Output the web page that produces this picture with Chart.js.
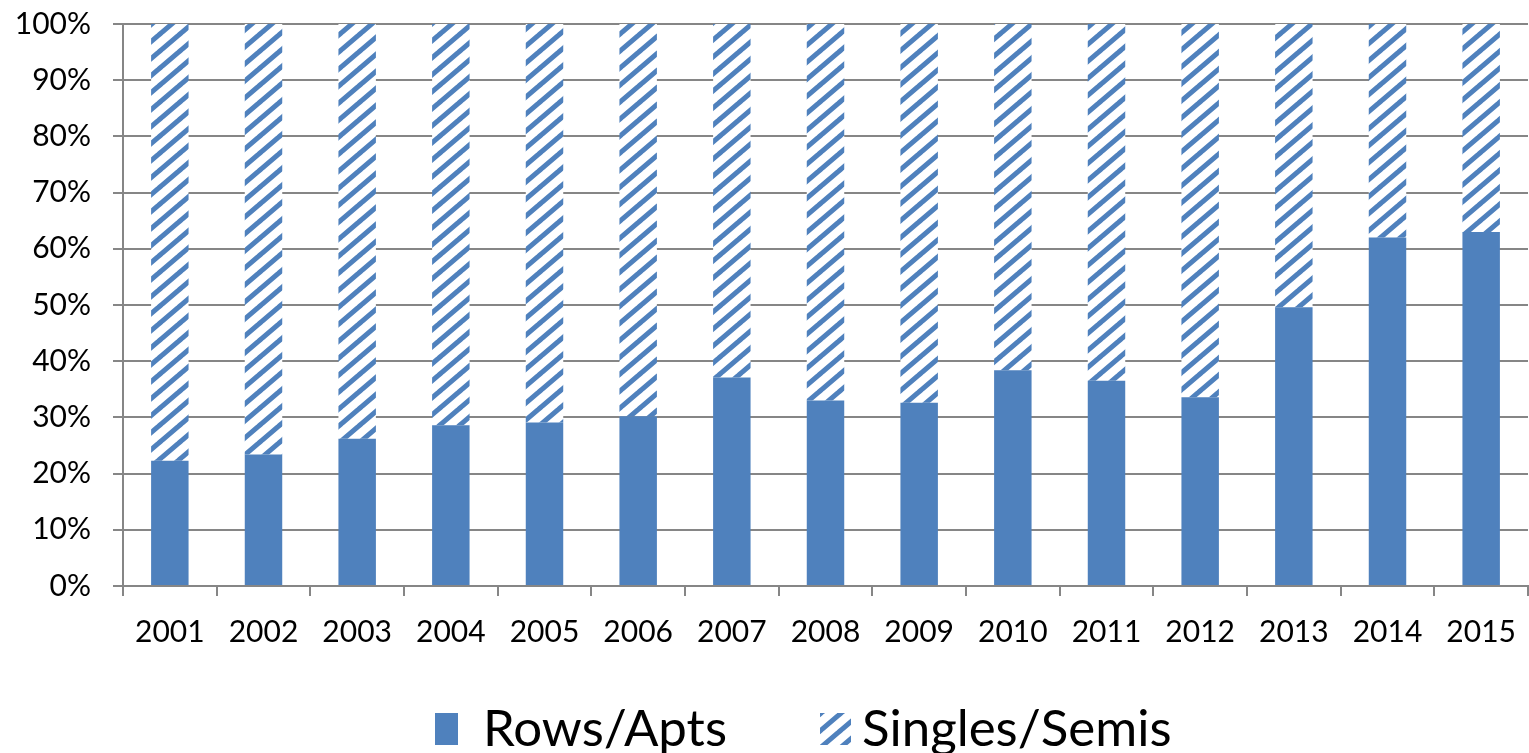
<!DOCTYPE html>
<html>
<head>
<meta charset="utf-8">
<script src="https://cdn.jsdelivr.net/npm/chart.js@4.4.1/dist/chart.umd.min.js"></script>
<style>
  html, body { margin: 0; padding: 0; background: #ffffff; }
  #wrap { width: 1529px; height: 753px; position: relative; }
</style>
</head>
<body>
<div id="wrap"><canvas id="chart" width="1529" height="753"></canvas></div>
<script>
// Share of housing starts by dwelling type, 2001-2015 (percent)
const years = ['2001', '2002', '2003', '2004', '2005', '2006', '2007', '2008',
               '2009', '2010', '2011', '2012', '2013', '2014', '2015'];
const rowsApts = [22.3, 23.4, 26.2, 28.6, 29.1, 30.2, 37.1, 33.0,
                  32.6, 38.4, 36.5, 33.6, 49.6, 62.0, 63.0];
const singlesSemis = rowsApts.map(v => +(100 - v).toFixed(1));
const seriesNames = ['Rows/Apts', 'Singles/Semis'];

const BLUE = 'rgb(79,129,189)';
const GRID = 'rgb(134,134,134)';
const FONT = 'Lato, "Open Sans", sans-serif';

// Upward diagonal hatch used for the Singles/Semis bars
function makeHatch() {
  const w = 20, h = 17;
  const c = document.createElement('canvas');
  c.width = w; c.height = h;
  const g = c.getContext('2d');
  g.fillStyle = '#ffffff';
  g.fillRect(0, 0, w, h);
  g.strokeStyle = BLUE;
  g.lineWidth = 5;
  g.lineCap = 'square';
  g.beginPath();
  for (let k = -1; k <= 1; k++) {
    g.moveTo(k * w, h);
    g.lineTo(k * w + w, 0);
  }
  g.stroke();
  return g.createPattern(c, 'repeat');
}

const ctx = document.getElementById('chart').getContext('2d');
const hatch = makeHatch();

// Legend drawn under the axis: solid swatch and hatched swatch with labels
const legendItems = [
  { swatchX: 435, swatchW: 23, textX: 483 },
  { swatchX: 820, swatchW: 31, textX: 862 }
];
const bottomLegend = {
  id: 'bottomLegend',
  afterDraw(chart) {
    const g = chart.ctx;
    const boxH = 32;
    const baseY = 746;
    const fills = [BLUE, hatch];
    g.save();
    g.font = '51px ' + FONT;
    g.textBaseline = 'alphabetic';
    seriesNames.forEach((name, i) => {
      const it = legendItems[i];
      g.fillStyle = fills[i];
      g.fillRect(it.swatchX, baseY - 1 - boxH, it.swatchW, boxH);
      g.fillStyle = '#000000';
      g.fillText(name, it.textX, baseY);
    });
    g.restore();
  }
};

new Chart(ctx, {
  type: 'bar',
  data: {
    labels: years,
    datasets: [
      { label: seriesNames[0], data: rowsApts, backgroundColor: BLUE,
        borderWidth: 0, barPercentage: 0.4, categoryPercentage: 1.0 },
      { label: seriesNames[1], data: singlesSemis, backgroundColor: hatch,
        borderWidth: 0, barPercentage: 0.4, categoryPercentage: 1.0 }
    ]
  },
  options: {
    responsive: false,
    animation: false,
    devicePixelRatio: 1,
    layout: { padding: { top: 24, right: 1, bottom: 87, left: 0 } },
    plugins: {
      legend: { display: false },
      tooltip: { enabled: false }
    },
    scales: {
      x: {
        stacked: true,
        afterFit(scale) {
          scale.height = 80;
          scale.paddingLeft = 0;
          scale.paddingRight = 0;
        },
        grid: {
          offset: true,
          drawOnChartArea: false,
          drawTicks: true,
          tickLength: 10,
          color: GRID,
          lineWidth: 2
        },
        border: { color: GRID, width: 2 },
        ticks: {
          color: '#000000',
          padding: 18,
          maxRotation: 0,
          font: { family: FONT, size: 30 }
        }
      },
      y: {
        stacked: true,
        min: 0,
        max: 100,
        afterFit(scale) {
          scale.width = 123;
          scale.paddingTop = 0;
          scale.paddingBottom = 0;
        },
        grid: {
          color: GRID,
          lineWidth: 2,
          tickLength: 10,
          drawTicks: true
        },
        border: { color: GRID, width: 2 },
        ticks: {
          stepSize: 10,
          color: '#000000',
          padding: 22,
          font: { family: FONT, size: 30 },
          callback: v => v + '%'
        }
      }
    }
  },
  plugins: [bottomLegend]
});
</script>
</body>
</html>
